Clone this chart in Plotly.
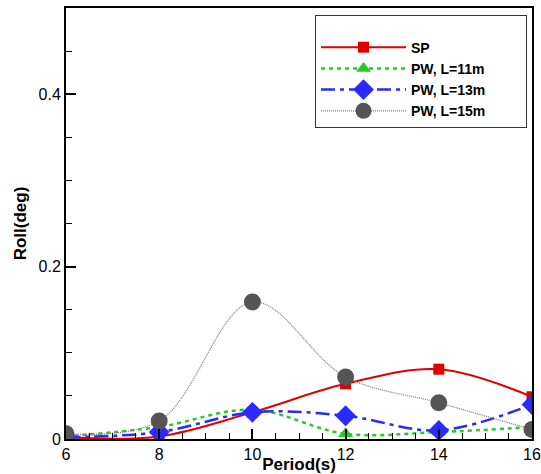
import plotly.graph_objects as go

period = [6, 8, 10, 12, 14, 16]
sp = [0.002, 0.003, 0.031, 0.064, 0.081, 0.049]
pw11 = [0.003, 0.014, 0.034, 0.006, 0.008, 0.014]
pw13 = [0.002, 0.008, 0.031, 0.027, 0.010, 0.040]
pw15 = [0.006, 0.021, 0.159, 0.072, 0.042, 0.011]
names = ["SP", "PW, L=11m", "PW, L=13m", "PW, L=15m"]

pad = "\u00a0" * 9
fig = go.Figure()
fig.add_trace(go.Scatter(x=period, y=sp, name=names[0] + pad, mode="lines+markers",
                         line=dict(color="#e00000", width=2, shape="spline", smoothing=1),
                         marker=dict(symbol="square", size=11, color="#e00000")))
fig.add_trace(go.Scatter(x=period, y=pw11, name=names[1] + pad, mode="lines+markers",
                         line=dict(color="#22cc22", width=2.5, dash="4px,4px", shape="spline", smoothing=1),
                         marker=dict(symbol="triangle-up", size=13, color="#22cc22")))
fig.add_trace(go.Scatter(x=period, y=pw13, name=names[2] + pad, mode="lines+markers",
                         line=dict(color="#2a2aff", width=2.5, dash="14px,5px,4px,5px", shape="spline", smoothing=1),
                         marker=dict(symbol="diamond", size=16, color="#2a2aff")))
fig.add_trace(go.Scatter(x=period, y=pw15, name=names[3] + pad, mode="lines+markers",
                         line=dict(color="#808080", width=1.3, dash="1px,1px", shape="spline", smoothing=1),
                         marker=dict(symbol="circle", size=17, color="#555555")))

axis_common = dict(showline=True, linecolor="black", linewidth=2, mirror=True,
                   ticks="inside", ticklen=10, tickwidth=2, tickcolor="black",
                   showgrid=False, zeroline=False,
                   tickfont=dict(family="Liberation Sans, Arial", size=16, color="black"))

fig.update_xaxes(range=[6, 16], dtick=2, tick0=6,
                 minor=dict(ticks="inside", ticklen=6, tickwidth=1, dtick=0.5, tickcolor="black"),
                 title=dict(text="<b>Period(s)</b>", font=dict(family="Liberation Sans, Arial", size=17, color="black"), standoff=2),
                 automargin=False, **axis_common)
fig.update_yaxes(range=[0, 0.5], dtick=0.2, tick0=0,
                 minor=dict(ticks="inside", ticklen=6, tickwidth=1, dtick=0.05, tickcolor="black"),
                 title=dict(text="<b>Roll(deg)</b>", font=dict(family="Liberation Sans, Arial", size=17, color="black"), standoff=8),
                 automargin=False, **axis_common)

fig.update_layout(
    width=541, height=474,
    margin=dict(l=66, r=9, t=8, b=35),
    paper_bgcolor="white", plot_bgcolor="white",
    showlegend=True,
    legend=dict(x=(527 - 66) / 466, y=(439 - 15) / 431,
                xanchor="right", yanchor="top",
                bgcolor="white", bordercolor="#333333", borderwidth=1,
                font=dict(family="Liberation Sans, Arial", size=14, color="black", weight="bold"),
                title=dict(text=" ", font=dict(size=12)),
                itemwidth=85, tracegroupgap=0),
)

fig.write_html("out.html", config={"displayModeBar": False},
               post_script="document.body.style.margin='0';document.body.style.padding='0';document.body.style.overflow='hidden';")
